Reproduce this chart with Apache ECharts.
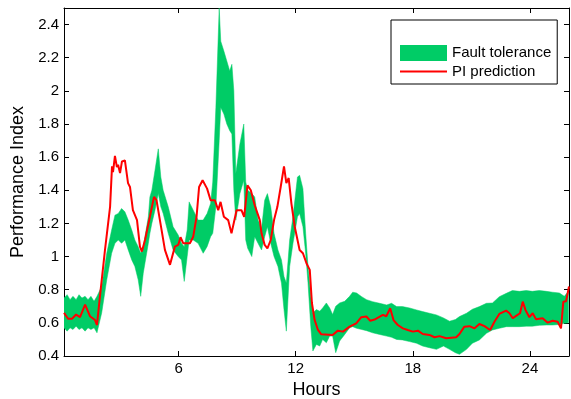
<!DOCTYPE html>
<html lang="en">
  <head>
    <meta charset="UTF-8" />
    <title>Performance Index</title>
    <style>
      html, body { margin: 0; padding: 0; background: #fff; }
      .box { width: 571px; height: 399px; }
    </style>
  </head>
  <body>
    <div class="box"></div>
    <script src="https://cdn.jsdelivr.net/npm/echarts@6/dist/echarts.min.js"></script>
    <script>
var bandHours = [0.13,0.29,0.44,0.59,0.75,0.90,1.05,1.21,1.36,1.51,1.67,1.82,2.06,2.32,2.57,2.74,2.91,3.08,3.25,3.42,
  3.60,3.76,3.93,4.06,4.19,4.45,4.53,4.63,4.79,4.96,5.09,5.21,5.47,5.72,5.98,6.15,6.29,6.44,6.54,6.75,
  7.00,7.26,7.46,7.64,7.75,7.91,8.08,8.16,8.32,8.47,8.62,8.73,8.83,8.93,9.14,9.34,9.44,9.54,9.75,9.90,
  10.07,10.25,10.41,10.55,10.72,10.89,11.09,11.27,11.40,11.52,11.69,11.86,12.09,12.20,12.37,12.51,12.63,12.77,12.88,13.06,
  13.23,13.38,13.57,13.74,13.89,14.05,14.25,14.51,14.76,14.92,15.12,15.38,15.63,15.94,16.30,16.66,16.91,17.17,17.47,17.83,
  18.19,18.50,18.85,19.21,19.57,19.88,20.18,20.39,20.75,21.05,21.41,21.77,22.08,22.43,22.79,23.10,23.46,23.81,24.12,24.48,
  24.84,25.15,25.51,25.76,25.97];

var bandHigh = [0.75,0.77,0.74,0.76,0.74,0.77,0.75,0.76,0.74,0.76,0.73,0.76,0.82,1.02,1.16,1.25,1.26,1.29,1.27,1.22,
  1.16,1.10,1.06,1.02,1.06,1.24,1.36,1.40,1.52,1.65,1.48,1.40,1.30,1.18,1.13,1.08,1.06,1.16,1.33,1.28,
  1.22,1.22,1.26,1.32,1.45,1.90,2.50,2.30,2.24,2.18,2.12,2.16,2.00,1.50,1.68,1.80,1.45,1.40,1.38,1.36,
  1.22,1.17,1.34,1.38,1.30,1.14,1.04,0.98,0.88,0.84,1.10,1.24,1.48,1.49,1.41,1.14,0.94,0.76,0.66,0.68,
  0.67,0.69,0.72,0.69,0.65,0.70,0.72,0.73,0.76,0.785,0.78,0.758,0.74,0.728,0.718,0.708,0.718,0.698,0.698,0.69,
  0.678,0.668,0.658,0.648,0.63,0.61,0.62,0.638,0.658,0.682,0.698,0.718,0.72,0.758,0.778,0.795,0.79,0.795,0.79,0.795,
  0.79,0.785,0.78,0.76,0.79];

var bandLow = [0.57,0.55,0.57,0.56,0.58,0.56,0.57,0.55,0.57,0.56,0.57,0.54,0.66,0.86,1.02,1.08,1.10,1.08,1.10,1.04,
  0.98,0.94,0.86,0.76,0.90,1.08,1.14,1.20,1.28,1.38,1.30,1.26,1.14,1.04,1.00,0.98,0.85,1.00,1.10,1.10,
  1.08,1.02,1.06,1.12,1.14,1.30,1.70,1.90,1.86,1.80,1.76,1.74,1.40,1.22,1.38,1.46,1.10,1.05,1.00,1.12,
  1.08,1.04,1.12,1.18,1.08,1.00,0.94,0.84,0.68,0.55,0.94,1.08,1.24,1.26,1.18,1.02,0.84,0.58,0.43,0.47,
  0.46,0.50,0.48,0.52,0.52,0.42,0.49,0.53,0.57,0.577,0.567,0.56,0.553,0.54,0.53,0.52,0.513,0.50,0.497,0.487,
  0.477,0.46,0.45,0.44,0.46,0.44,0.42,0.41,0.44,0.477,0.497,0.537,0.557,0.567,0.577,0.577,0.577,0.58,0.58,0.585,
  0.587,0.587,0.59,0.597,0.60];

var piHours = [0.13,0.34,0.54,0.75,0.95,1.21,1.46,1.72,1.82,1.97,2.23,2.49,2.59,2.64,2.74,2.84,2.90,3.00,3.10,3.25,
  3.41,3.51,3.66,3.87,4.02,4.12,4.28,4.53,4.74,4.87,5.13,5.30,5.56,5.81,5.98,6.10,6.24,6.58,6.75,6.92,
  7.05,7.23,7.46,7.64,7.86,8.03,8.15,8.32,8.54,8.71,8.97,9.22,9.36,9.53,9.70,9.90,10.16,10.25,10.41,10.55,
  10.72,10.89,11.06,11.23,11.40,11.52,11.64,11.78,11.95,12.20,12.37,12.55,12.72,12.83,12.97,13.14,13.31,13.38,13.89,14.16,
  14.42,14.76,15.10,15.36,15.62,15.82,16.04,16.26,16.47,16.64,16.84,17.01,17.23,17.49,17.74,18.00,18.26,18.51,18.85,19.11,
  19.37,19.71,20.22,20.39,20.64,20.90,21.16,21.41,21.67,21.96,22.18,22.43,22.78,22.95,23.12,23.29,23.49,23.63,23.77,23.97,
  24.14,24.31,24.65,24.91,25.16,25.42,25.59,25.71,25.85,26.00];

var piValues = [0.66,0.625,0.625,0.65,0.635,0.71,0.64,0.617,0.587,0.758,1.04,1.30,1.544,1.51,1.608,1.54,1.554,1.504,1.574,1.58,
  1.443,1.42,1.28,1.22,1.06,1.03,1.10,1.24,1.36,1.34,1.16,1.04,0.95,1.06,1.07,1.117,1.08,1.08,1.12,1.24,
  1.42,1.46,1.41,1.34,1.34,1.28,1.33,1.24,1.22,1.14,1.28,1.28,1.24,1.43,1.40,1.31,1.22,1.14,1.07,1.05,
  1.10,1.22,1.30,1.42,1.544,1.443,1.474,1.32,1.18,1.04,1.02,0.96,0.92,0.72,0.617,0.557,0.531,0.527,0.527,0.553,
  0.547,0.577,0.597,0.634,0.638,0.613,0.62,0.634,0.648,0.64,0.688,0.617,0.587,0.567,0.557,0.547,0.553,0.533,0.527,0.513,
  0.52,0.507,0.513,0.533,0.577,0.58,0.567,0.593,0.58,0.557,0.607,0.654,0.674,0.658,0.628,0.642,0.658,0.728,0.678,0.634,
  0.658,0.622,0.628,0.601,0.613,0.607,0.567,0.728,0.73,0.819];

var xTicks = [6, 12, 18, 24];
var yTicks = [0.4, 0.6, 0.8, 1, 1.2, 1.4, 1.6, 1.8, 2, 2.2, 2.4];

var font = "'Liberation Sans', Arial, sans-serif";
var green = '#00cc66';
var red = '#ff0000';

var bandData = bandHours.map(function (h, i) { return [h, bandLow[i], bandHigh[i]]; });
var piData = piHours.map(function (h, i) { return [h, piValues[i]]; });

// whole band as one polygon: upper edge forward, lower edge back
function renderBand(params, api) {
  if (params.dataIndex !== 0) return null;
  var pts = [];
  for (var i = 0; i < bandData.length; i++) {
    pts.push(api.coord([bandData[i][0], bandData[i][2]]));
  }
  for (var j = bandData.length - 1; j >= 0; j--) {
    pts.push(api.coord([bandData[j][0], bandData[j][1]]));
  }
  return {
    type: 'polygon',
    shape: { points: pts },
    style: { fill: green, stroke: green, lineWidth: 0.5 }
  };
}

function xAxisCfg(pos, labels) {
  return {
    type: 'value', position: pos, min: 0.13, max: 26,
    axisLine: { show: true, onZero: false, lineStyle: { color: '#000', width: 1 } },
    axisTick: { show: true, inside: true, length: 5, customValues: xTicks, lineStyle: { color: '#000' } },
    axisLabel: { show: labels, customValues: xTicks, color: '#000', fontSize: 15, fontFamily: font, margin: 5 },
    splitLine: { show: false }
  };
}
function yAxisCfg(pos, labels) {
  return {
    type: 'value', position: pos, min: 0.4, max: 2.5,
    axisLine: { show: true, onZero: false, lineStyle: { color: '#000', width: 1 } },
    axisTick: { show: true, inside: true, length: 5, customValues: yTicks, lineStyle: { color: '#000' } },
    axisLabel: { show: labels, customValues: yTicks, color: '#000', fontSize: 15, fontFamily: font, margin: 5 },
    splitLine: { show: false }
  };
}

var xMain = xAxisCfg('bottom', true);
xMain.name = 'Hours';
xMain.nameLocation = 'middle';
xMain.nameGap = 25;
xMain.nameTextStyle = { color: '#000', fontSize: 18, fontFamily: font };

var yMain = yAxisCfg('left', true);
yMain.name = 'Performance Index';
yMain.nameLocation = 'middle';
yMain.nameGap = 37;
yMain.nameTextStyle = { color: '#000', fontSize: 18, fontFamily: font };

var myChart = echarts.init(document.querySelector('.box'));

var option = {
  animation: false,
  backgroundColor: '#fff',
  grid: { left: 64, right: 2, top: 8, bottom: 43, containLabel: false, outerBoundsMode: 'none' },
  legend: {
    orient: 'vertical',
    left: 391,
    top: 20,
    padding: [25, 6, 5, 9],
    itemWidth: 47,
    itemHeight: 16,
    itemGap: 3,
    borderColor: '#000',
    borderWidth: 1,
    backgroundColor: '#fff',
    textStyle: { color: '#000', fontSize: 15, fontFamily: font },
    data: [
      { name: 'Fault tolerance', icon: 'rect', itemStyle: { color: green } },
      { name: 'PI prediction', icon: 'path://M0,0 L47,0 L47,2 L0,2 Z', itemStyle: { color: red } }
    ]
  },
  xAxis: [xMain, xAxisCfg('top', false)],
  yAxis: [yMain, yAxisCfg('right', false)],
  series: [
    {
      name: 'Fault tolerance',
      type: 'custom',
      renderItem: renderBand,
      data: bandData,
      encode: { x: 0, y: [1, 2] },
      itemStyle: { color: green },
      silent: true,
      clip: true,
      z: 2
    },
    {
      name: 'PI prediction',
      type: 'line',
      data: piData,
      symbol: 'none',
      color: red,
      lineStyle: { width: 2, color: red },
      z: 3
    }
  ]
};
myChart.setOption(option);
    </script>
  </body>
</html>
